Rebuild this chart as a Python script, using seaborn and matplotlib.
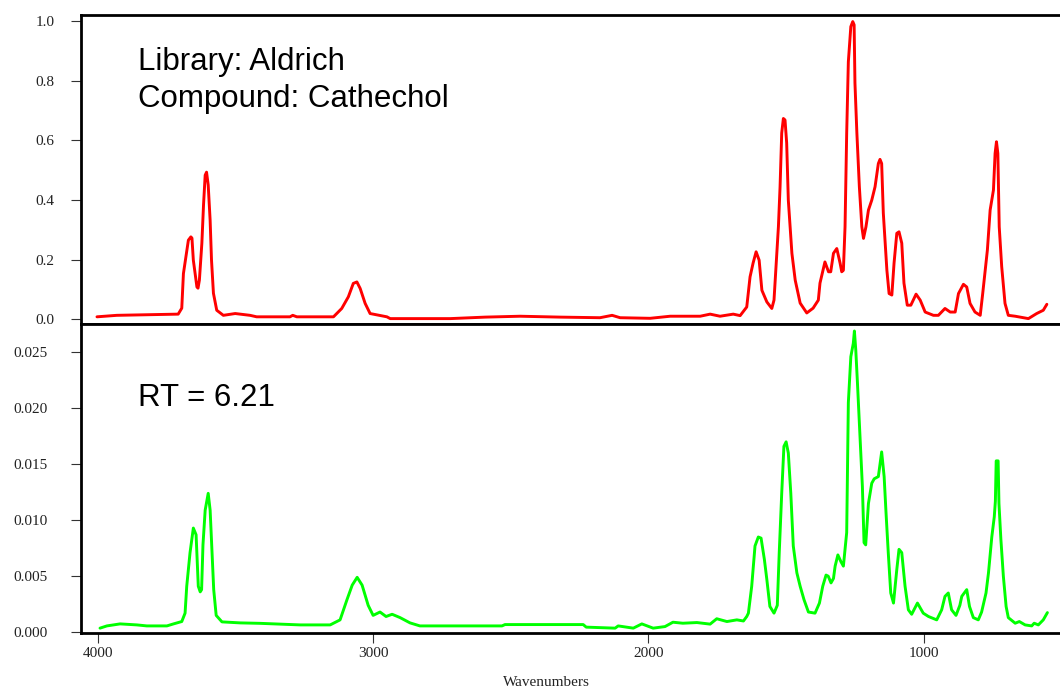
import numpy as np
import pandas as pd
import matplotlib
matplotlib.use("Agg")
import matplotlib.pyplot as plt
import seaborn as sns

# ---- Data ----
red_wavenumber = [4003, 3931, 3708, 3695, 3689, 3671, 3662, 3658, 3653, 3640, 3636, 3631, 3622, 3616,
                  3610, 3605, 3599, 3592, 3587, 3580, 3568, 3544, 3501, 3447, 3423, 3302, 3292, 3277,
                  3144, 3114, 3090, 3072, 3059, 3047, 3029, 3011, 2950, 2938, 2720, 2593, 2466, 2321,
                  2176, 2132, 2103, 1994, 1921, 1812, 1776, 1740, 1692, 1667, 1643, 1631, 1620, 1609,
                  1598, 1588, 1570, 1552, 1544, 1528, 1522, 1516, 1510, 1504, 1498, 1492, 1479, 1467,
                  1449, 1425, 1402, 1383, 1377, 1359, 1346, 1338, 1328, 1316, 1304, 1298, 1292, 1286,
                  1280, 1274, 1265, 1258, 1253, 1250, 1243, 1234, 1225, 1219, 1210, 1201, 1189, 1177,
                  1165, 1159, 1153, 1147, 1134, 1126, 1116, 1108, 1098, 1090, 1080, 1072, 1060, 1047,
                  1028, 1013, 995, 965, 947, 923, 904, 886, 874, 856, 844, 832, 814, 795, 786, 769,
                  759, 747, 741, 736, 731, 726, 717, 705, 693, 668, 620, 590, 566, 553]
red_absorbance = [0.008, 0.013, 0.017, 0.037, 0.153, 0.265, 0.276, 0.272, 0.198, 0.108, 0.104, 0.131,
                  0.255, 0.383, 0.483, 0.493, 0.450, 0.332, 0.198, 0.087, 0.030, 0.013, 0.019, 0.013,
                  0.008, 0.008, 0.013, 0.008, 0.008, 0.036, 0.075, 0.120, 0.125, 0.103, 0.053, 0.019,
                  0.008, 0.002, 0.002, 0.007, 0.010, 0.007, 0.005, 0.013, 0.005, 0.003, 0.010, 0.010,
                  0.017, 0.010, 0.017, 0.012, 0.041, 0.142, 0.188, 0.226, 0.198, 0.097, 0.058, 0.036,
                  0.064, 0.310, 0.444, 0.624, 0.673, 0.668, 0.591, 0.399, 0.221, 0.131, 0.054, 0.021,
                  0.037, 0.064, 0.121, 0.192, 0.159, 0.159, 0.221, 0.237, 0.188, 0.159, 0.164, 0.310,
                  0.624, 0.863, 0.981, 0.998, 0.987, 0.792, 0.624, 0.444, 0.310, 0.271, 0.310, 0.366,
                  0.399, 0.444, 0.522, 0.536, 0.522, 0.356, 0.164, 0.086, 0.081, 0.188, 0.288, 0.293,
                  0.255, 0.121, 0.047, 0.047, 0.084, 0.064, 0.024, 0.013, 0.013, 0.036, 0.024, 0.024,
                  0.086, 0.117, 0.108, 0.053, 0.024, 0.013, 0.086, 0.232, 0.366, 0.433, 0.556, 0.595,
                  0.556, 0.310, 0.176, 0.053, 0.013, 0.010, 0.002, 0.019, 0.030, 0.050]

green_wavenumber = [3992, 3967, 3919, 3858, 3822, 3749, 3725, 3695, 3683, 3677, 3665, 3653, 3643, 3635,
                    3628, 3623, 3618, 3610, 3599, 3592, 3584, 3579, 3570, 3549, 3483, 3411, 3265, 3156,
                    3120, 3095, 3076, 3058, 3040, 3018, 3000, 2975, 2953, 2931, 2902, 2866, 2830, 2532,
                    2521, 2237, 2226, 2121, 2110, 2055, 2024, 1983, 1940, 1911, 1875, 1824, 1776, 1752,
                    1715, 1679, 1655, 1643, 1637, 1625, 1613, 1601, 1591, 1579, 1570, 1559, 1544, 1532,
                    1525, 1516, 1508, 1500, 1492, 1483, 1474, 1461, 1449, 1435, 1419, 1395, 1379, 1367,
                    1355, 1347, 1337, 1328, 1322, 1312, 1301, 1292, 1280, 1274, 1265, 1256, 1252, 1247,
                    1241, 1231, 1223, 1217, 1211, 1201, 1189, 1180, 1165, 1153, 1144, 1137, 1129, 1120,
                    1110, 1098, 1090, 1080, 1068, 1056, 1044, 1023, 1002, 983, 953, 935, 923, 911, 899,
                    883, 869, 862, 844, 834, 820, 802, 790, 774, 765, 753, 744, 740, 737, 730, 727, 720,
                    711, 701, 693, 668, 653, 632, 608, 599, 584, 566, 551]
green_absorbance = [0.00036, 0.00056, 0.00074, 0.00065, 0.00056, 0.00056, 0.00074, 0.00095, 0.0017,
                    0.0041, 0.0071, 0.0093, 0.0087, 0.0041, 0.0036, 0.0038, 0.0078, 0.0109, 0.0124,
                    0.0109, 0.0065, 0.0038, 0.0015, 0.00092, 0.00083, 0.00079, 0.00065, 0.00065, 0.0011,
                    0.0029, 0.0042, 0.0049, 0.0042, 0.0024, 0.0015, 0.0018, 0.0014, 0.0016, 0.0013,
                    0.00083, 0.00056, 0.00056, 0.00068, 0.00068, 0.00045, 0.00036, 0.00056, 0.00036,
                    0.00074, 0.00036, 0.0005, 0.00089, 0.0008, 0.00086, 0.00072, 0.0012, 0.00095,
                    0.0011, 0.001, 0.0014, 0.0017, 0.0041, 0.0077, 0.0085, 0.0084, 0.0065, 0.0047,
                    0.0023, 0.0017, 0.0024, 0.0071, 0.0124, 0.0166, 0.0170, 0.0160, 0.0124, 0.0077,
                    0.0053, 0.0041, 0.0029, 0.0018, 0.0017, 0.0026, 0.0041, 0.0051, 0.0050, 0.0044,
                    0.0048, 0.0059, 0.0069, 0.0063, 0.0059, 0.0089, 0.0205, 0.0246, 0.0258, 0.0269,
                    0.0252, 0.0223, 0.0172, 0.0130, 0.0080, 0.0078, 0.0115, 0.0133, 0.0137, 0.0139,
                    0.0161, 0.0139, 0.0106, 0.0071, 0.0035, 0.0026, 0.0056, 0.0074, 0.0071, 0.0041,
                    0.0020, 0.0016, 0.0026, 0.0017, 0.0014, 0.0011, 0.0020, 0.0032, 0.0035, 0.0020,
                    0.0015, 0.0024, 0.0032, 0.0038, 0.0023, 0.0013, 0.0011, 0.0018, 0.0035, 0.0053,
                    0.0085, 0.0103, 0.0117, 0.0153, 0.0153, 0.0115, 0.0083, 0.0050, 0.0023, 0.0013,
                    0.0008, 0.00095, 0.00065, 0.00056, 0.0008, 0.00065, 0.0011, 0.00175]

top_yticks = [0.0, 0.2, 0.4, 0.6, 0.8, 1.0]
bottom_yticks = [0.000, 0.005, 0.010, 0.015, 0.020, 0.025]
x_ticks = [4000, 3000, 2000, 1000]
top_text = ["Library: Aldrich", "Compound: Cathechol"]
bottom_text = "RT = 6.21"
x_label = "Wavenumbers"

red_df = pd.DataFrame({"wavenumber": red_wavenumber, "absorbance": red_absorbance})
green_df = pd.DataFrame({"wavenumber": green_wavenumber, "absorbance": green_absorbance})

sns.set_style("white")
plt.rcParams["font.family"] = ["Liberation Serif", "DejaVu Serif"]

W, H = 1060, 687
fig = plt.figure(figsize=(W / 100, H / 100), dpi=100)

left = 81 / W
right = 1062 / W
mid = 1 - 323.5 / H
top = 1 - 15 / H
bottom = 1 - 633.3 / H

ax1 = fig.add_axes([left, mid, right - left, top - mid])
ax2 = fig.add_axes([left, bottom, right - left, mid - bottom])

sns.lineplot(data=red_df, x="wavenumber", y="absorbance", ax=ax1, color="#ff0000",
             linewidth=2.1, sort=False, estimator=None)
sns.lineplot(data=green_df, x="wavenumber", y="absorbance", ax=ax2, color="#00ff00",
             linewidth=2.1, sort=False, estimator=None)

xlim = (4061, 498)
for ax in (ax1, ax2):
    ax.set_xlim(*xlim)
    ax.set_ylabel("")
    ax.set_xlabel("")
    for s in ax.spines.values():
        s.set_color("black")
        s.set_linewidth(2.0)
    ax.grid(False)

ax1.set_ylim(-0.0144, 1.020)
ax2.set_ylim(-0.0001, 0.02757)

ax1.set_yticks(top_yticks)
ax1.set_yticklabels([f"{v:.1f}" for v in top_yticks])
ax2.set_yticks(bottom_yticks)
ax2.set_yticklabels([f"{v:.3f}" for v in bottom_yticks])
ax2.set_xticks(x_ticks)
ax2.set_xticklabels([str(v) for v in x_ticks])

ax1.tick_params(axis="x", bottom=False, labelbottom=False)
ax1.tick_params(axis="y", left=True, direction="out", length=7, width=0.8,
                color="#333333", labelsize=11, labelcolor="#222222", pad=12)
ax2.tick_params(axis="y", left=True, direction="out", length=7, width=0.8,
                color="#333333", labelsize=11, labelcolor="#222222", pad=17)
ax2.tick_params(axis="x", bottom=True, direction="out", length=7, width=0.8,
                color="#333333", labelsize=11, labelcolor="#222222", pad=3)

ax2.set_xlabel(x_label, fontsize=11, color="#222222")
ax2.xaxis.set_label_coords(0.474, -0.138)

sans = ["Liberation Sans", "DejaVu Sans"]
ax1.text(0.058, (323.5 - 70) / 308.5, top_text[0], transform=ax1.transAxes,
         fontsize=22.5, family=sans, va="baseline", ha="left", color="black")
ax1.text(0.058, (323.5 - 107.3) / 308.5, top_text[1], transform=ax1.transAxes,
         fontsize=22.5, family=sans, va="baseline", ha="left", color="black")
ax2.text(0.058, (633.3 - 406) / 309.8, bottom_text, transform=ax2.transAxes,
         fontsize=22.5, family=sans, va="baseline", ha="left", color="black")

fig.savefig("out.png", dpi=100)
